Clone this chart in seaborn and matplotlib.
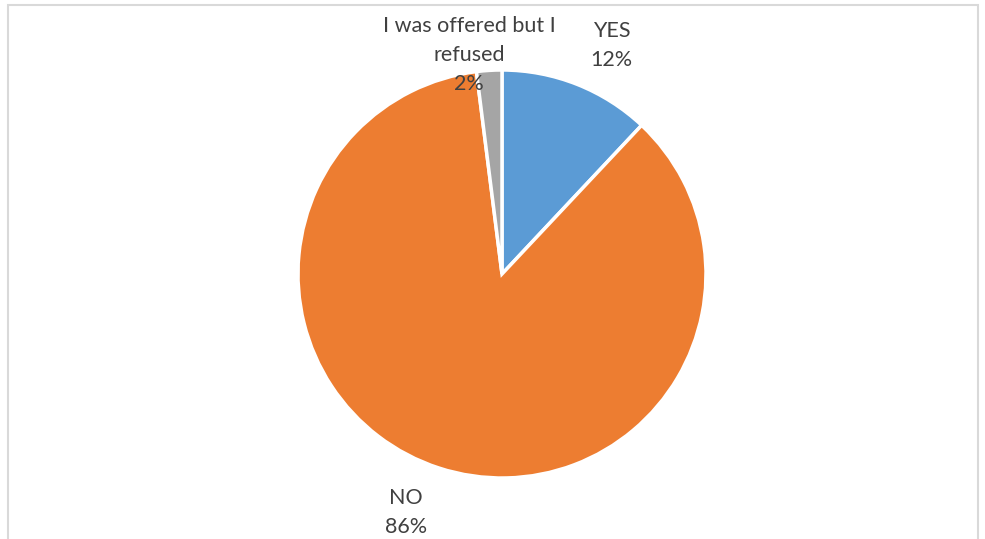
import numpy as np
import matplotlib
matplotlib.use("Agg")
import matplotlib.pyplot as plt
import matplotlib.patches as mpatches
import seaborn as sns

# pie data
labels = ["YES", "NO", "I was offered but I\nrefused"]
shares = [12, 86, 2]
colors = ["#5B9BD5", "#ED7D31", "#A5A5A5"]
label_radius = [1.24, 1.26, 1.085]
label_shift = [-4, -4, 5]   # degrees, nudges like Excel's best-fit labels

sns.set_theme(style="white")
plt.rcParams['font.family'] = ['Lato', 'DejaVu Sans']

fig = plt.figure(figsize=(9.85, 5.39), dpi=100)
ax = fig.add_axes([(502 - 204) / 985, (265 - 204) / 539, 408 / 985, 408 / 539])

wedges, texts = ax.pie(shares, colors=colors, startangle=90, counterclock=False,
                       wedgeprops=dict(edgecolor="white", linewidth=2.5),
                       labels=None)

# data labels: category + percent
total = sum(shares)
start = 90.0
for i, (lab, val) in enumerate(zip(labels, shares)):
    mid = start - val / total * 360 / 2
    start -= val / total * 360
    ang = np.deg2rad(mid + label_shift[i])
    r = label_radius[i]
    ax.text(r * np.cos(ang), r * np.sin(ang), f"{lab}\n{val}%",
            ha="center", va="center", fontsize=15.5, color="#404040",
            linespacing=1.55)

ax.set_xlim(-1, 1)
ax.set_ylim(-1, 1)
ax.set_aspect("equal")
ax.axis("off")

# chart area border (cut at the bottom)
frame = mpatches.Rectangle((8 / 985, -0.1), 970 / 985, (534 / 539) + 0.1,
                           transform=fig.transFigure, fill=False,
                           edgecolor="#D9D9D9", linewidth=1.5)
fig.patches.append(frame)

plt.savefig("out.png", dpi=100)
